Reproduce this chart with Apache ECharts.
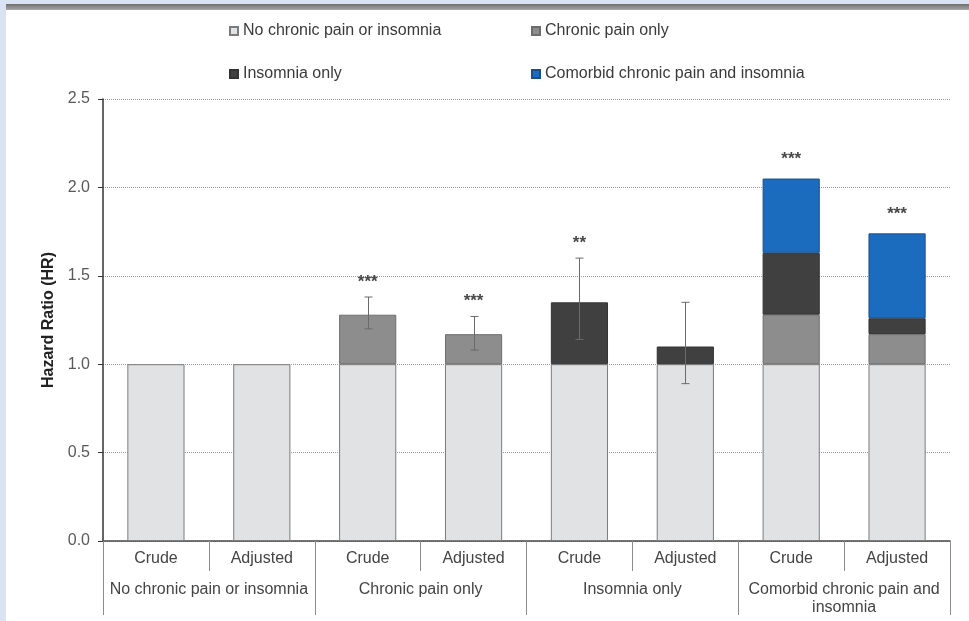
<!DOCTYPE html>
<html>
<head>
<meta charset="utf-8">
<script src="https://cdn.jsdelivr.net/npm/echarts@6/dist/echarts.min.js"></script>
<style>
  html, body { margin: 0; padding: 0; width: 969px; height: 621px; overflow: hidden; background: #dae3f4; }
  #panel { position: absolute; left: 6px; top: 4px; right: 0; bottom: 0; background: #fff; }
  #panel .bar { height: 6px; background: linear-gradient(#6f6f6f, #a8a8a8); }
  #chart { position: absolute; left: 0; top: 0; width: 969px; height: 621px; }
</style>
</head>
<body>
<div id="panel"><div class="bar"></div></div>
<div id="chart"></div>
<script>
// Sub-categories (estimate type) and the exposure groups they belong to
const categories = ['Crude', 'Adjusted', 'Crude', 'Adjusted', 'Crude', 'Adjusted', 'Crude', 'Adjusted'];
const groups = ['No chronic pain or insomnia', 'Chronic pain only', 'Insomnia only', 'Comorbid chronic pain and\ninsomnia'];
const seriesNames = ['No chronic pain or insomnia', 'Chronic pain only', 'Insomnia only', 'Comorbid chronic pain and insomnia'];

// Stacked hazard-ratio segments (reference level 1.0 plus increments)
const noPainNoInsomnia = [1, 1, 1, 1, 1, 1, 1, 1];
const chronicPainOnly  = [null, null, 0.28, 0.17, null, null, 0.28, 0.17];
const insomniaOnly     = [null, null, null, null, 0.35, 0.10, 0.35, 0.09];
const comorbid         = [null, null, null, null, null, null, 0.42, 0.48];

// 95% confidence intervals and significance markers
const ciLow  = [null, null, 1.20, 1.08, 1.14, 0.89, null, null];
const ciHigh = [null, null, 1.38, 1.27, 1.60, 1.35, null, null];
const stars  = ['', '', '***', '***', '**', '', '***', '***'];

// Y axis range and step
const yMin = 0, yMax = 2.5, yStep = 0.5;

const segments = [noPainNoInsomnia, chronicPainOnly, insomniaOnly, comorbid];
const colors = ['#e1e2e4', '#8d8d8d', '#404040', '#1b6bbf'];
const borders = ['#7c7c7c', '#6e6e6e', '#333333', '#1a4f8a'];
const totals = categories.map((_, i) => segments.reduce((s, arr) => s + (arr[i] || 0), 0));

const FONT = '"Liberation Sans", Arial, sans-serif';

const chart = echarts.init(document.getElementById('chart'), null, { renderer: 'canvas' });

const barSeries = segments.map((arr, k) => ({
  name: seriesNames[k],
  type: 'bar',
  stack: 'hr',
  barWidth: '54%',
  data: arr,
  itemStyle: { color: colors[k], borderColor: borders[k], borderWidth: 1 },
  emphasis: { disabled: true },
  z: 2
}));

const errorSeries = {
  type: 'custom',
  name: 'ci',
  data: categories.map((_, i) => [i, totals[i]]),
  encode: { x: 0, y: 1 },
  z: 5,
  silent: true,
  renderItem(params, api) {
    const i = params.dataIndex;
    const children = [];
    let anchor = totals[i];
    let gap = 19;
    const lineStyle = { stroke: '#6a6a6a', lineWidth: 1 };
    if (ciHigh[i] != null) {
      const top = api.coord([i, ciHigh[i]]);
      const bot = api.coord([i, ciLow[i]]);
      const x = Math.round(top[0]) + 0.5;
      children.push({ type: 'line', shape: { x1: x, y1: top[1], x2: x, y2: bot[1] }, style: lineStyle });
      children.push({ type: 'line', shape: { x1: x - 4, y1: top[1], x2: x + 4, y2: top[1] }, style: lineStyle });
      children.push({ type: 'line', shape: { x1: x - 4, y1: bot[1], x2: x + 4, y2: bot[1] }, style: lineStyle });
      anchor = ciHigh[i];
      gap = 15;
    }
    if (stars[i]) {
      const p = api.coord([i, anchor]);
      children.push({
        type: 'text',
        style: {
          text: stars[i], x: p[0], y: p[1] - gap,
          align: 'center', verticalAlign: 'middle',
          fill: '#484848', font: 'bold 17px ' + FONT
        }
      });
    }
    return { type: 'group', children };
  }
};

chart.setOption({
  animation: false,
  textStyle: { fontFamily: FONT },
  legend: [0, 1, 2, 3].map(k => ({
    data: [seriesNames[k]],
    left: k % 2 === 0 ? 229 : 531,
    top: k < 2 ? 23 : 66,
    padding: 0,
    itemWidth: 8,
    itemHeight: 8,
    icon: 'rect',
    selectedMode: false,
    textStyle: { fontSize: 16, color: '#3a3a3a', fontFamily: FONT }
  })),
  grid: { left: 103, right: 19, top: 99, bottom: 80, containLabel: false },
  xAxis: [
    {
      type: 'category',
      data: categories,
      position: 'bottom',
      axisLine: { show: true, lineStyle: { color: '#4a4a4a', width: 1.5 } },
      axisTick: { show: true, length: 30, interval: 0, lineStyle: { color: '#8c8c8c' } },
      axisLabel: { interval: 0, fontSize: 16, color: '#444', margin: 10, fontFamily: FONT }
    },
    {
      type: 'category',
      data: groups,
      position: 'bottom',
      axisLine: { show: false },
      axisTick: { show: true, length: 74, interval: 0, lineStyle: { color: '#8c8c8c' } },
      axisLabel: { interval: 0, fontSize: 16, color: '#444', margin: 40, lineHeight: 18, fontFamily: FONT }
    }
  ],
  yAxis: {
    type: 'value',
    min: yMin,
    max: yMax,
    interval: yStep,
    name: 'Hazard Ratio (HR)',
    nameLocation: 'middle',
    nameGap: 38,
    nameTextStyle: { fontSize: 16, fontWeight: 'bold', color: '#222', fontFamily: FONT },
    axisLine: { show: true, lineStyle: { color: '#333', width: 1.5 } },
    axisTick: { show: true, length: 5, lineStyle: { color: '#333' } },
    axisLabel: { fontSize: 16, color: '#5a5a5a', margin: 13, formatter: v => v.toFixed(1), fontFamily: FONT },
    splitLine: { show: true, lineStyle: { color: '#9a9a9a', type: 'dotted', width: 1 } }
  },
  series: [...barSeries, errorSeries]
});
</script>
</body>
</html>
